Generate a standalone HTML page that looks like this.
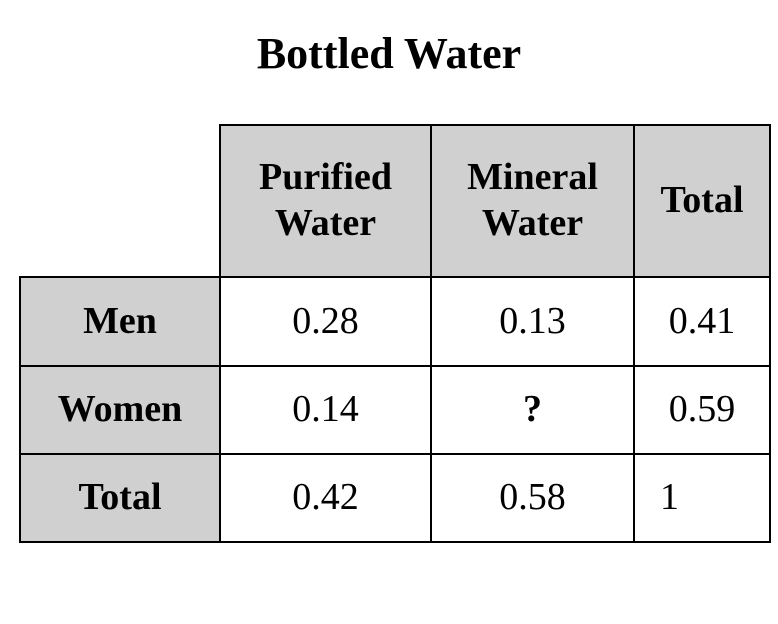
<!DOCTYPE html>
<html><head><meta charset="utf-8"><style>
body{margin:0;width:778px;height:624px;background:#fff;position:relative;overflow:hidden;font-family:"Liberation Serif",serif;}
.t{position:absolute;left:0;width:778px;top:28px;text-align:center;font-weight:bold;font-size:44px;}
.c{position:absolute;box-sizing:border-box;border:2px solid #000;display:flex;align-items:center;justify-content:center;text-align:center;font-size:38px;line-height:1.2;}
.g{background:#d0d0d0;font-weight:bold;}
</style></head><body>
<div class="t">Bottled Water</div>
<div>
<div class="c g" style="left:219px;top:124px;width:213px;height:154px">Purified<br>Water</div>
<div class="c g" style="left:430px;top:124px;width:205px;height:154px">Mineral<br>Water</div>
<div class="c g" style="left:633px;top:124px;width:138px;height:154px">Total</div>

<div class="c g" style="left:19px;top:276px;width:202px;height:91px">Men</div>
<div class="c" style="left:219px;top:276px;width:213px;height:91px">0.28</div>
<div class="c" style="left:430px;top:276px;width:205px;height:91px">0.13</div>
<div class="c" style="left:633px;top:276px;width:138px;height:91px">0.41</div>

<div class="c g" style="left:19px;top:365px;width:202px;height:90px">Women</div>
<div class="c" style="left:219px;top:365px;width:213px;height:90px">0.14</div>
<div class="c" style="left:430px;top:365px;width:205px;height:90px;font-weight:bold">?</div>
<div class="c" style="left:633px;top:365px;width:138px;height:90px">0.59</div>

<div class="c g" style="left:19px;top:453px;width:202px;height:90px">Total</div>
<div class="c" style="left:219px;top:453px;width:213px;height:90px">0.42</div>
<div class="c" style="left:430px;top:453px;width:205px;height:90px">0.58</div>
<div class="c" style="left:633px;top:453px;width:138px;height:90px;justify-content:flex-start;padding-left:25px">1</div>
</div>
</body></html>
